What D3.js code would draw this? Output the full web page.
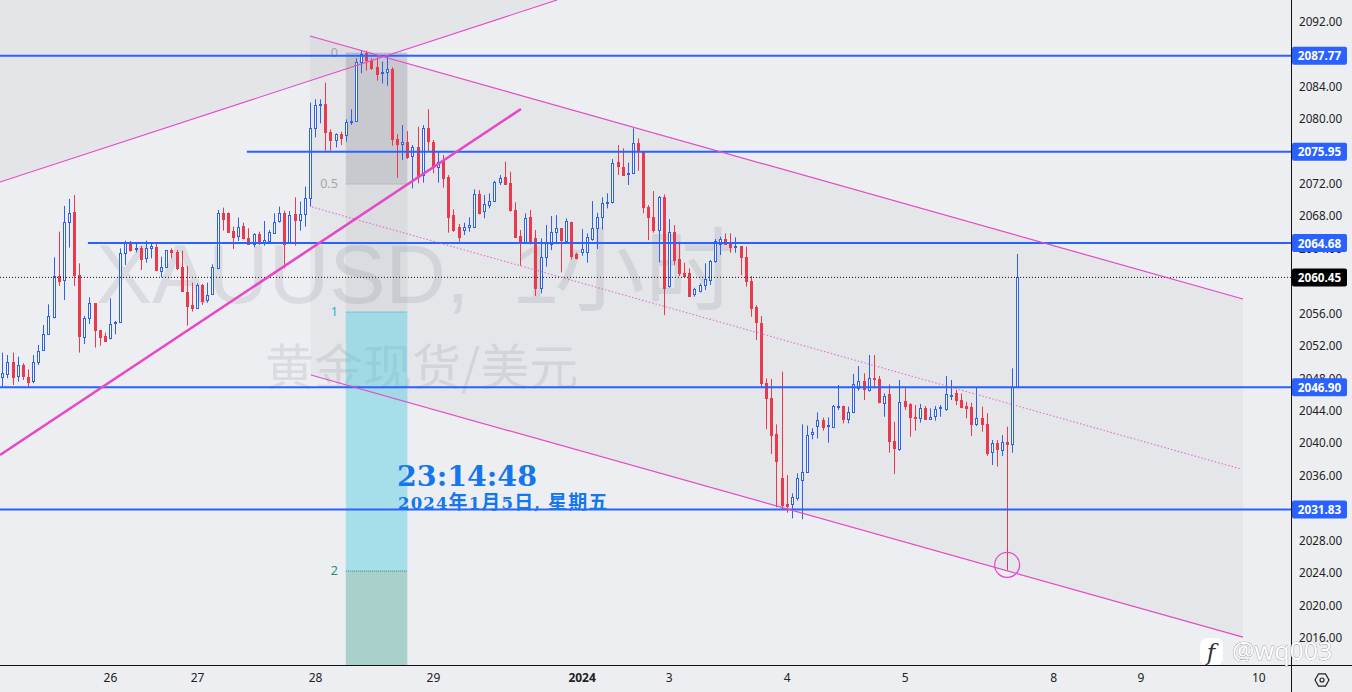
<!DOCTYPE html>
<html><head><meta charset="utf-8">
<script src="https://cdn.jsdelivr.net/npm/d3@7"></script>
<style>html,body{margin:0;padding:0;background:#edeef2;overflow:hidden}svg{display:block}</style>
</head><body><svg id="c" width="1352" height="692"></svg>
<script>
const opens=[2048.13,2048.62,2050.06,2048.21,2049.61,2048.21,2047.59,2050.06,2051.42,2053.43,
2055.61,2060.66,2060.13,2067.24,2068.47,2060.75,2053.14,2055.4,2057.25,2053.96,
2053.23,2053.06,2054.83,2054.91,2063.42,2064.86,2063.95,2064.03,2062.8,2064.03,
2064.16,2061.28,2061.77,2063.83,2063.62,2061.69,2058.69,2057.05,2056.64,2059.51,
2057.58,2058.36,2061.69,2068.35,2068.43,2066.21,2065.47,2066.79,2065.27,2064.53,
2065.76,2064.65,2064.94,2065.97,2067.32,2068.43,2064.65,2068.27,2067.53,2068.23,
2070.19,2078.83,2081.66,2081.83,2078.41,2077.39,2078.09,2078,2079.57,2079.65,
2086.96,2088.07,2087.17,2086.43,2085.73,2085.69,2086.14,2077.47,2076.89,2077.18,
2075.33,2076.48,2072.99,2078.83,2077.18,2074.1,2074.92,2072.87,2068.14,2066.7,
2066.37,2066.62,2066.7,2070.73,2068.55,2069.45,2069.87,2072.13,2072.78,2072.04,
2068.76,2065.55,2064.65,2067.85,2065.26,2059.1,2062.92,2064.65,2066,2066.49,
2064.97,2067.23,2063.33,2063.49,2063.49,2065.18,2066.49,2067.85,2069.62,2069.66,
2074.63,2074.1,2073.27,2073.27,2076.97,2076.03,2069.08,2067.85,2066.37,2070.4,
2059.3,2066,2062.67,2061.03,2060.94,2058.31,2058.81,2059.42,2060.12,2062.46,
2064.56,2065.14,2064.77,2064.15,2064.31,2062.92,2060.04,2056.75,2054.87,2047.47,
2045.54,2041.1,2035.67,2032.51,2032.47,2033.21,2035.47,2036.49,2041.1,2042.12,
2042.86,2042.12,2042.04,2044.51,2044.59,2042.95,2043.77,2046.77,2047.67,2046.56,
2048,2047.92,2045,2046.03,2040.27,2039.29,2045.21,2044.8,2043.27,2043.07,
2044.38,2043.07,2043.36,2044.34,2044.22,2045.91,2046.15,2045.33,2044.59,2044.51,
2042.33,2043.11,2042.37,2038.84,2039.99,2039.16,2040.11,2039.86,2046.9];
const highs=[2051.17,2050.88,2051.17,2050.68,2049.86,2049.12,2050.88,2052.12,2054.58,2057.13,
2062.92,2066.09,2069.25,2070.12,2070.61,2062.18,2055.69,2057.99,2057.25,2053.96,
2053.64,2057.87,2055.07,2064.03,2064.98,2064.94,2064.65,2064.36,2064.98,2064.77,
2064.65,2063.01,2063.83,2064.03,2063.83,2063.75,2061.86,2059.8,2059.72,2059.64,
2059.8,2062.06,2068.76,2069.05,2068.47,2066.71,2067.82,2067.2,2066.5,2065.88,
2066.09,2067.4,2066.29,2068.35,2069.17,2068.68,2068.64,2070.32,2069.79,2071.64,
2081.99,2082.4,2082.4,2084.46,2078.7,2078.21,2078.41,2079.94,2081.17,2087.46,
2088.48,2088.4,2087.46,2087.58,2087.05,2087.74,2086.35,2078.09,2079.24,2078.5,
2076.77,2079.03,2079.24,2081.17,2077.39,2075.95,2075.54,2073.07,2068.84,2067.03,
2067.19,2067.85,2071.3,2071.22,2070.61,2070.81,2072.37,2073.07,2074.72,2073.48,
2069.7,2066.29,2068.35,2068.76,2066.29,2065.26,2066.91,2068.02,2068.14,2066.49,
2067.73,2067.31,2063.49,2066.41,2065.88,2069.86,2068.42,2070.31,2070.81,2075.04,
2076.77,2076.36,2074.59,2078.82,2077.59,2076.03,2069.37,2071.1,2070.48,2070.68,
2067.64,2066.9,2064.85,2062.26,2061.56,2059.18,2059.71,2062.18,2062.59,2065.18,
2065.46,2065.88,2065.88,2065.38,2064.31,2064.23,2060.62,2057.04,2055.69,2048,
2047.92,2042.33,2048.82,2036.08,2033.82,2036.29,2042.33,2042.17,2041.84,2043.81,
2043.15,2043.19,2044.71,2047.18,2044.63,2044.51,2048.54,2049.52,2048.62,2050.88,
2050.88,2048.29,2046.15,2047.26,2042.66,2047.8,2046.77,2044.92,2044.71,2044.84,
2044.59,2044.3,2044.59,2044.71,2048.29,2047.8,2046.56,2046.15,2045.12,2045,
2046.89,2044.51,2043.69,2040.4,2040.4,2041.01,2042.04,2049.23,2063.33];
const lows=[2046.98,2048.01,2047.18,2047.59,2047.8,2046.98,2047.39,2049.65,2051.42,2053.35,
2055.4,2059.39,2057.66,2064.12,2059.39,2051.17,2052.24,2054.7,2051.79,2052.03,
2052.65,2052.81,2053.43,2054.91,2061.98,2063.62,2063.54,2061.36,2062.27,2062.8,
2061.28,2060.46,2061.69,2062.8,2061.36,2058.69,2054.5,2056.23,2056.56,2057.05,
2057.34,2058.28,2061.57,2066.21,2066.09,2063.95,2064.94,2065.14,2064.45,2064.16,
2064.45,2064.36,2064.94,2065.8,2067.2,2061.57,2064.57,2064.36,2066.21,2066.71,
2069.17,2077.72,2079.44,2076.07,2076.07,2076.48,2076.77,2077.18,2079.24,2079.65,
2085.61,2085.94,2086.02,2084.7,2084.37,2084.09,2076.69,2072.74,2074.92,2075.04,
2071.43,2072.04,2072.13,2075.95,2073.28,2072.13,2071.51,2065.96,2066.08,2064.85,
2065.67,2066.08,2066.7,2068.22,2067.73,2068.96,2069.78,2071.84,2071.84,2068.55,
2065.47,2061.89,2064.65,2064.5,2058.15,2058.48,2061.77,2063.82,2064.56,2061.07,
2064.56,2062.67,2062.67,2063.12,2062.26,2064.97,2063.94,2066.37,2068.96,2069.57,
2073.07,2073.07,2071.84,2073.27,2073.6,2068.34,2065.05,2065.96,2062.3,2055.81,
2059.18,2061.97,2060.62,2060.53,2058.07,2058.07,2058.6,2058.89,2059.51,2062.26,
2063.2,2064.56,2063.49,2063.49,2060.74,2059.3,2055.6,2052.72,2046.89,2041.71,
2038.67,2032.1,2031.77,2031.44,2030.74,2032.92,2030.62,2036.49,2040.48,2040.6,
2041.55,2040.07,2042.04,2044.1,2042.45,2042.45,2043.69,2046.48,2045.33,2046.36,
2046.77,2044.92,2043.27,2038.84,2036.21,2039.08,2044.1,2040.81,2041.55,2042.54,
2042.99,2043.03,2042.78,2043.27,2044.01,2045.33,2044.71,2044.42,2043.07,2040.89,
2042.12,2041.43,2038.43,2037.32,2037.11,2038.43,2024.37,2038.84,2046.8];
const closes=[2048.62,2050.06,2048.21,2049.61,2048.21,2047.59,2049.98,2051.42,2053.43,2055.69,
2060.66,2060.05,2067.24,2068.35,2060.75,2053.27,2055.49,2057.25,2053.96,2053.14,
2052.65,2054.75,2054.91,2063.42,2064.77,2063.83,2064.03,2062.72,2064.03,2064.32,
2061.28,2061.77,2063.83,2063.54,2061.69,2058.69,2056.92,2056.64,2059.51,2057.58,
2058.24,2061.69,2068.43,2067.61,2066.09,2065.47,2066.62,2065.27,2064.53,2065.8,
2064.65,2065.06,2066.01,2067.32,2068.35,2064.65,2068.14,2067.53,2068.23,2070.2,
2078.83,2081.7,2081.83,2078.41,2077.39,2078.13,2077.59,2079.57,2079.73,2086.96,
2087.95,2087.17,2086.35,2085.61,2085.81,2086.1,2077.47,2076.89,2077.18,2075.33,
2076.48,2072.74,2078.83,2077.18,2074.1,2074.72,2072.66,2067.93,2066.29,2065.47,
2066.7,2066.91,2070.73,2068.35,2069.45,2069.91,2072.21,2072.66,2071.92,2068.67,
2065.47,2064.73,2067.73,2064.65,2059.1,2062.92,2064.65,2066.08,2066.49,2064.97,
2067.4,2063.08,2062.79,2063.9,2065.38,2066.49,2067.85,2069.57,2069.7,2074.51,
2074.1,2073.15,2073.36,2076.97,2075.95,2069.16,2067.85,2066.29,2070.4,2059.18,
2066,2062.59,2060.94,2060.66,2058.07,2058.97,2059.51,2060.2,2062.46,2064.93,
2065.18,2064.56,2064.11,2064.31,2062.92,2059.92,2056.75,2054.9,2047.47,2045.66,
2040.93,2037.73,2032.3,2032.26,2033.33,2035.67,2036.49,2041.01,2041.34,2042.86,
2042.04,2042.25,2044.59,2044.63,2042.99,2043.81,2047.26,2047.67,2046.65,2048,
2047.96,2045.12,2045.86,2040.27,2039.37,2045.04,2044.59,2043.19,2043.19,2044.3,
2043.03,2043.27,2044.22,2044.43,2046.07,2045.99,2045.25,2044.51,2044.38,2042.45,
2043.11,2042.33,2038.84,2039.99,2039.25,2040.11,2039.86,2046.89,2060.45];

const priceTicks=[2092,2088,2084,2080,2076,2072,2068,2064,2060,2056,2052,2048,2044,2040,2036,2032,2028,2024,2020,2016];
const dayTickBars=[21,38,61,84,113,130,153,176,205,222,245];
const dayTickLabels=["26","27","28","29","2024","3","4","5","8","9","10"];
const levels=[2087.77,2075.95,2064.68,2046.90,2031.83];
const levelStartBars=[-1,47.7,16.7,-1,-1];
const lastPrice=2060.45;

// drawings, anchored in bar / price coordinates
const riseEdge=[[-0.45,2072.21],[108.2,2094.65]];
const riseSupport=[[-0.45,2038.55],[101.17,2081.21]];
const fallTop=[[60,2090.21],[242,2057.78]];
const fallMid=[[60.4,2069.13],[241.6,2036.82]];
const fallBottom=[[60.2,2048.41],[242,2016.1]];
const fibBars=[67,79];
const fibPrices=[2088.1,2071.96,2056.18,2024.24];
const fibLabels=["0","0.5","1","2"];
const fibLabelColors=["#a4a5ac","#a4a5ac","#26b6c6","#1a8f7e"];
const circleCentre=[196,2025.0];

const W=1352,H=692,plotW=1291,plotH=665;
const x=d3.scaleLinear().domain([0,198]).range([2.3,1017.4]);
const y=d3.scaleLinear().domain([2092,2016]).range([21.5,637.9]);
const svg=d3.select("#c");
const pink="#e44ac6",blue="#2962ff",up="#2f62e0",down="#e83a4c";
svg.append("rect").attr("width",W).attr("height",H).attr("fill","#edeef2");
svg.append("defs").append("clipPath").attr("id","plot").append("rect").attr("width",plotW).attr("height",plotH);
const g=svg.append("g").attr("clip-path","url(#plot)");
const lineGen=d3.line().x(d=>x(d[0])).y(d=>y(d[1]));

// rising channel shading above its upper edge
g.append("path").attr("d",lineGen([riseEdge[0],riseEdge[1],[riseEdge[1][0],2096],[riseEdge[0][0],2096]])+"Z").attr("fill","#e4e5e9");

// falling channel fill
g.append("path").attr("d",lineGen([fallTop[0],fallTop[1],fallBottom[1],fallBottom[0]])+"Z").attr("fill","rgba(120,123,134,0.07)");

// watermark
const wm=g.append("text").attr("y",303).attr("font-family","'Liberation Sans','Noto Sans CJK SC',sans-serif").attr("fill","rgba(120,123,134,0.17)");
wm.append("tspan").attr("x",96).attr("font-size",84).text("XAUUSD,");
wm.append("tspan").attr("x",512).attr("font-size",84).text("1");
wm.append("tspan").attr("x",554).attr("font-size",91).text("小时");
g.append("text").attr("x",265).attr("y",385).attr("font-family","'Noto Sans CJK SC',sans-serif").attr("font-size",49).attr("fill","rgba(120,123,134,0.17)").text("黄金现货/美元");

// fib bands
const fibFills=["rgba(96,98,110,0.22)","rgba(96,98,110,0.08)","rgba(70,200,225,0.42)"];
fibFills.forEach((f,i)=>{
 g.append("rect").attr("x",x(fibBars[0])).attr("width",x(fibBars[1])-x(fibBars[0])).attr("y",y(fibPrices[i])).attr("height",y(fibPrices[i+1])-y(fibPrices[i])).attr("fill",f);
});
g.append("rect").attr("x",x(fibBars[0])).attr("width",x(fibBars[1])-x(fibBars[0])).attr("y",y(fibPrices[3])).attr("height",plotH-y(fibPrices[3])).attr("fill","rgba(60,160,140,0.38)");
fibPrices.forEach((p,i)=>{
 g.append("line").attr("x1",x(fibBars[0])).attr("x2",x(fibBars[1])).attr("y1",y(p)).attr("y2",y(p)).attr("stroke",fibLabelColors[i]).attr("stroke-dasharray","1 1").attr("stroke-width",1);
 g.append("text").attr("x",x(fibBars[0])-8).attr("y",y(p)+4).attr("text-anchor","end").attr("font-family","'Noto Sans',sans-serif").attr("font-size",12.5).attr("fill",fibLabelColors[i]).text(fibLabels[i]);
});

// candles
const bars=d3.range(opens.length).map(i=>({i,o:opens[i],h:highs[i],l:lows[i],c:closes[i]}));
const cg=g.selectAll("g.k").data(bars).join("g").attr("class","k");
cg.append("line").attr("x1",d=>Math.round(x(d.i))+.5).attr("x2",d=>Math.round(x(d.i))+.5)
 .attr("y1",d=>y(d.h)).attr("y2",d=>y(d.l)).attr("stroke",d=>d.c>=d.o?up:down).attr("stroke-width",1);
cg.append("rect").attr("x",d=>Math.round(x(d.i))-.5).attr("width",2)
 .attr("y",d=>Math.round(y(Math.max(d.o,d.c)))+.5).attr("height",d=>Math.max(1,Math.round(Math.abs(y(d.o)-y(d.c)))))
 .attr("fill",d=>d.c>=d.o?"#f4f5f9":down).attr("stroke",d=>d.c>=d.o?up:down).attr("stroke-width",1);

// horizontal levels
levels.forEach((p,i)=>{
 g.append("line").attr("x1",x(levelStartBars[i])).attr("x2",plotW).attr("y1",y(p)).attr("y2",y(p)).attr("stroke",blue).attr("stroke-width",2);
});
g.append("line").attr("x1",0).attr("x2",plotW).attr("y1",y(lastPrice)).attr("y2",y(lastPrice)).attr("stroke","#111").attr("stroke-dasharray","1 2").attr("stroke-width",1);

// trend lines
[[riseEdge,1.1],[fallTop,1.2],[fallBottom,1.2]].forEach(([l,w])=>g.append("path").attr("d",lineGen(l)).attr("fill","none").attr("stroke",pink).attr("stroke-width",w));
g.append("path").attr("d",lineGen(riseSupport)).attr("fill","none").attr("stroke",pink).attr("stroke-width",2.6);
g.append("path").attr("d",lineGen(fallMid)).attr("fill","none").attr("stroke",pink).attr("stroke-opacity",.75).attr("stroke-dasharray","1.5 2").attr("stroke-width",1.1);
g.append("circle").attr("cx",x(circleCentre[0])).attr("cy",y(circleCentre[1])).attr("r",12.5).attr("fill","none").attr("stroke",pink).attr("stroke-width",1.2);

// clock note
g.append("text").attr("x",397).attr("y",486).attr("font-family","'DejaVu Serif',serif").attr("font-weight","bold").attr("font-size",28.5).attr("fill","#1478ec").text("23:14:48");
const dateNote=g.append("text").attr("x",398).attr("y",509).attr("font-family","'DejaVu Serif','Noto Sans CJK SC',serif").attr("font-weight","bold").attr("letter-spacing",1.15).attr("fill","#1478ec");
[["2024",16.5],["年",19],["1",16.5],["月",19],["5",16.5],["日",19],[", ",16.5],["星期五",19]].forEach(([t,s])=>dateNote.append("tspan").attr("font-size",s).style("white-space","pre").text(t));

// axes
const fnt="'Noto Sans',sans-serif";
const ya=svg.append("g").attr("transform",`translate(${plotW+.5},0)`).call(d3.axisRight(y).tickValues(priceTicks).tickFormat(d3.format(".2f")).tickSize(0).tickPadding(7.5));
ya.selectAll("text").attr("font-family",fnt).attr("font-size",11.7).attr("fill","#222");
ya.select(".domain").remove();
const xa=svg.append("g").attr("transform",`translate(0,${plotH+.5})`).call(d3.axisBottom(x).tickValues(dayTickBars).tickFormat((d,i)=>dayTickLabels[i]).tickSize(0).tickPadding(8));
xa.selectAll("text").attr("font-family",fnt).attr("font-size",12).attr("fill","#222").attr("font-weight",(d,i)=>dayTickLabels[i]==="2024"?"bold":"normal");
xa.select(".domain").remove();
svg.append("line").attr("x1",plotW+.5).attr("x2",plotW+.5).attr("y1",0).attr("y2",H).attr("stroke","#111");
svg.append("line").attr("x1",0).attr("x2",W).attr("y1",plotH+.5).attr("y2",plotH+.5).attr("stroke","#111");

// price flags
[...levels,lastPrice].forEach((p,i)=>{
 const last=i===levels.length;
 svg.append("rect").attr("x",plotW+1).attr("y",y(p)-9).attr("width",55).attr("height",18).attr("rx",2).attr("fill",last?"#000":blue);
 svg.append("text").attr("x",plotW+28.5).attr("y",y(p)+4.5).attr("text-anchor","middle").attr("font-family",fnt).attr("font-weight","bold").attr("font-size",11.7).attr("fill","#fff").text(p.toFixed(2));
});

// settings glyph
svg.append("path").attr("d",d3.line()(d3.range(6).map(k=>[1322+7*Math.cos(k*Math.PI/3),680+7*Math.sin(k*Math.PI/3)]))+"Z").attr("fill","none").attr("stroke","#222").attr("stroke-width",1.2);
svg.append("circle").attr("cx",1322).attr("cy",680).attr("r",2).attr("fill","none").attr("stroke","#222").attr("stroke-width",1.2);

// author mark
svg.append("rect").attr("x",1200).attr("y",638).attr("width",23).attr("height",27).attr("rx",7).attr("fill","#fff");
svg.append("text").attr("x",1211).attr("y",660).attr("text-anchor","middle").attr("font-family","'DejaVu Serif',serif").attr("font-style","italic").attr("font-size",23).attr("fill","#333").text("f");
svg.append("text").attr("x",1232).attr("y",660).attr("font-family",fnt).attr("font-size",25).attr("fill","#fff").attr("stroke","#555").attr("stroke-width",.5).attr("paint-order","stroke").text("@wq003");
</script></body></html>
